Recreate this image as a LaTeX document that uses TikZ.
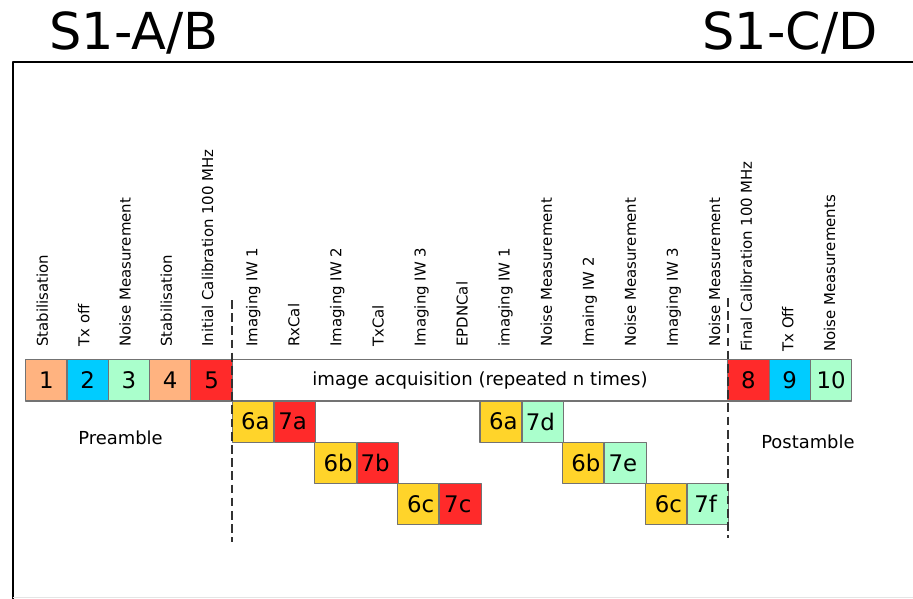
\documentclass[tikz,border=0pt]{standalone}
\usepackage{fontspec}
\setmainfont{DejaVu Sans}
\usetikzlibrary{positioning}
\definecolor{peach}{HTML}{FFB380}
\definecolor{skyc}{HTML}{00CCFF}
\definecolor{mint}{HTML}{AAFFCC}
\definecolor{redc}{HTML}{FF2A2A}
\definecolor{gold}{HTML}{FFD42A}
\tikzset{
  cell/.style={draw=black!55,line width=0.6pt,minimum width=0.826cm,minimum height=0.826cm,inner sep=0pt,font=\fontsize{13}{15}\selectfont},
  vlabel/.style={rotate=90,anchor=base west,inner sep=0pt,font=\fontsize{8.5}{10}\selectfont},
  divider/.style={dash pattern=on 5pt off 2.5pt,line width=0.8pt,black!80},
  heading/.style={anchor=base,font=\fontsize{29}{34}\selectfont},
  partname/.style={anchor=base,font=\fontsize{10.2}{12}\selectfont}
}
\begin{document}
\begin{tikzpicture}[x=0.826cm,y=0.826cm,line join=round]
\useasboundingbox (-0.622,-4.794) rectangle (21.484,9.709);
% frame and headings
\draw[line width=1.1pt] (-0.308,-4.794) -- (-0.308,8.208) -- (21.484,8.208);
\draw[black!10] (-0.308,-4.75) -- (21.484,-4.75);
\node[heading] (tab) at (2.62,8.5) {S1-A/B};
\node[heading] (tcd) at (18.51,8.5) {S1-C/D};
% main row
\foreach \n/\c [count=\i] in {1/peach,2/skyc,3/mint,4/peach,5/redc}{
  \node[cell,fill=\c] (b\n) at (\i-0.5,0.5) {\n};
}
\node[cell,minimum width=12*0.826cm,font=\fontsize{10.3}{12}\selectfont] (acq) at (11,0.5) {image acquisition (repeated n times)};
\foreach \n/\c [count=\i from 17] in {8/redc,9/skyc,10/mint}{
  \node[cell,fill=\c] (b\n) at (\i+0.5,0.5) {\n};
}
% acquisition steps (imaging cell left, calibration/noise cell right)
\foreach \a/\b/\c/\x/\r in {6a/7a/redc/5/0, 6b/7b/redc/7/1, 6c/7c/redc/9/2,
                            6a/7d/mint/11/0, 6b/7e/mint/13/1, 6c/7f/mint/15/2}{
  \node[cell,fill=gold] (p\x) at (\x+0.5,-\r-0.5) {\hspace*{3pt}\a};
  \node[cell,fill=\c,right=0pt of p\x] (q\x) {\b\hspace*{3pt}};
}
% vertical labels
\foreach \l [count=\k from 0] in {Stabilisation, Tx off, Noise Measurement, Stabilisation, Initial Calibration 100 MHz}{
  \node[vlabel] (lpre\k) at (0.54+\k,1.307) {\l};
}
\foreach \l [count=\k from 0] in {Imaging IW 1, RxCal, Imaging IW 2, TxCal, Imaging IW 3, EPDNCal,
                                  imaging IW 1, Noise Measurement, Imaing IW 2, Noise Measurement, Imaging IW 3, Noise Measurement}{
  \node[vlabel] (lacq\k) at (5.608+1.0185*\k,1.307) {\l};
}
\foreach \l [count=\k from 0] in {Final Calibration 100 MHz, Tx Off, Noise Measurements}{
  \node[vlabel] (lpost\k) at (17.58+1.01*\k,1.186) {\l};
}
% preamble / postamble
\node[partname] (pre) at (2.295,-1.065) {Preamble};
\node[partname] (post) at (18.94,-1.145) {Postamble};
\path
(5,2.445) coordinate (dl1)
(5,-3.407) coordinate (dl2)
(17,2.494) coordinate (dr1)
(17,-3.31) coordinate (dr2);
\draw[divider] (dl1) -- (dl2);
\draw[divider] (dr1) -- (dr2);
\end{tikzpicture}
\end{document}
